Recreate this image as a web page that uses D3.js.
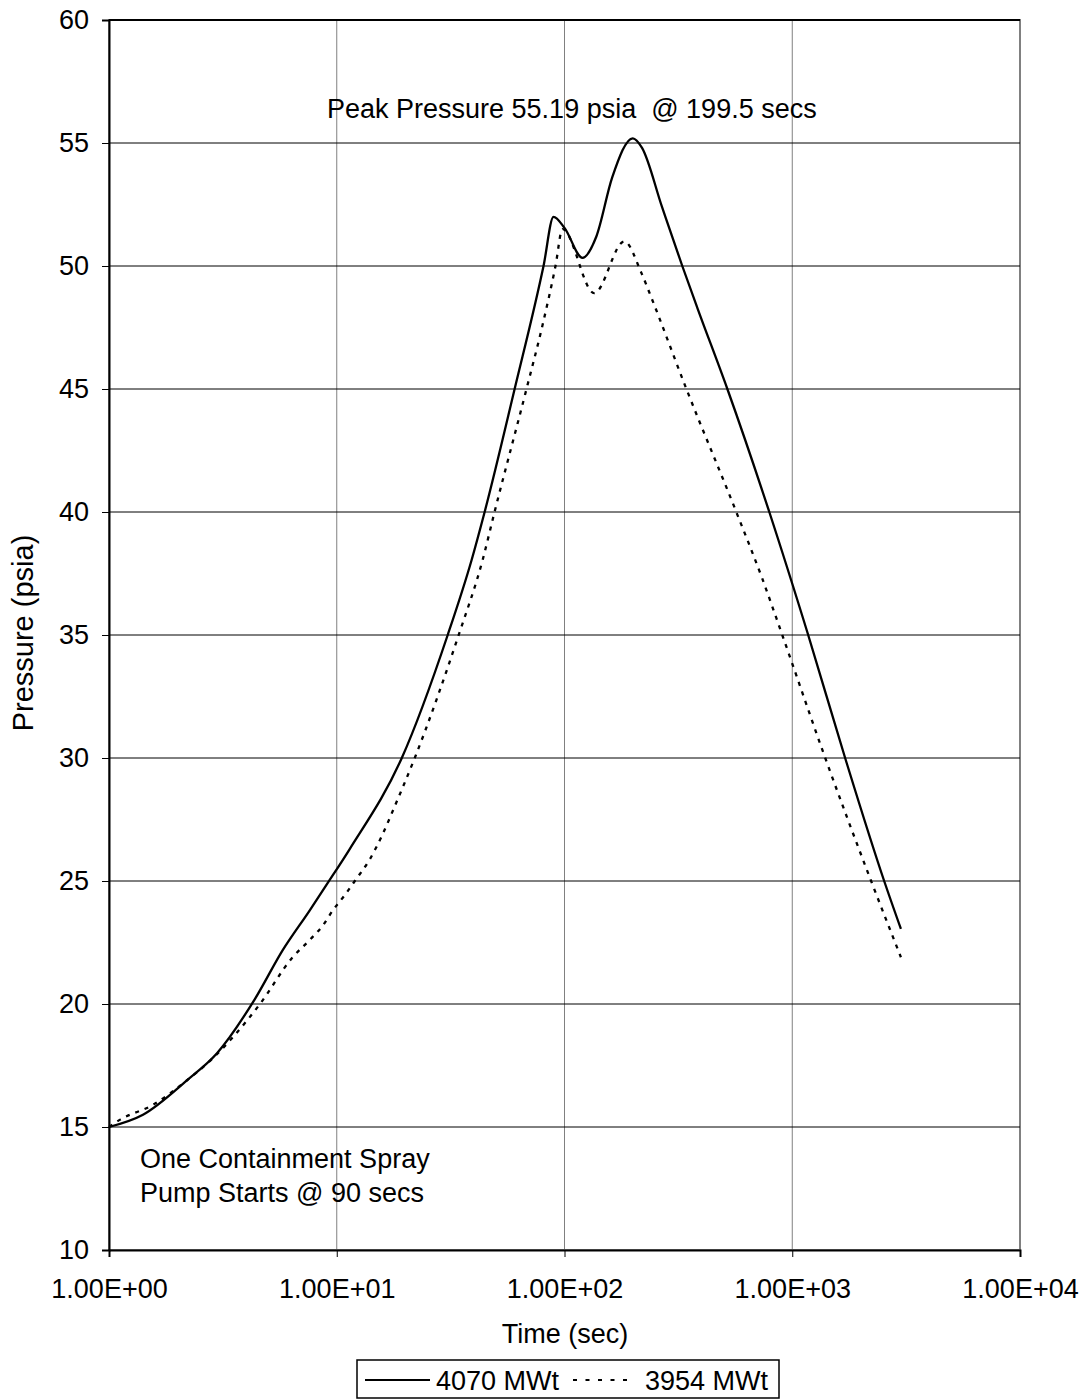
<!DOCTYPE html>
<html>
<head>
<meta charset="utf-8">
<script src="https://cdn.jsdelivr.net/npm/d3@7"></script>
<style>
  html, body { margin: 0; padding: 0; background: #fff; }
  text { font-family: "Liberation Sans", Arial, sans-serif; fill: #000; }
</style>
</head>
<body>
<svg id="chart" width="1086" height="1399"></svg>
<script>
"use strict";

// Containment pressure vs time (log time axis)
const yTicks = [10, 15, 20, 25, 30, 35, 40, 45, 50, 55, 60];
const xTicks = [1, 10, 100, 1000, 10000];

// 4070 MWt (solid)
const time4070 = [1, 1.41, 2.2, 2.98, 4.37, 5.8, 7.6, 9.1, 11.4, 19.3, 30.7, 39.1, 44.6, 60.4, 80.9, 89.5,
  100, 120, 138, 162, 199.5, 219, 268, 329, 383, 519, 793, 1175, 1707, 2533, 3000];
const pres4070 = [15.0, 15.5, 16.9, 18.0, 20.2, 22.2, 23.8, 24.9, 26.3, 30.0, 35.0, 38.05, 40.0, 45.0, 50.0, 52.0,
  51.55, 50.33, 51.2, 53.6, 55.19, 54.8, 52.4, 50.0, 48.3, 45.0, 40.0, 35.0, 30.0, 25.0, 23.05];

// 3954 MWt (dashed)
const time3954 = [1, 1.12, 1.56, 2.2, 2.86, 4.6, 6.4, 7.6, 8.7, 9.6, 11.0, 12.0, 13.9, 15.9, 17.9, 22.0, 34.3, 43.7, 49.3,
  68.1, 80.1, 91.3, 98, 135, 183, 218, 241, 343, 568, 738, 904, 1396, 2220, 3000];
const pres3954 = [15.0, 15.3, 15.9, 16.9, 17.8, 20.0, 21.9, 22.6, 23.2, 23.8, 24.5, 25.0, 25.85, 26.9, 28.0, 30.0, 35.0, 38.05, 40.0,
  45.0, 47.6, 50.0, 51.5, 48.9, 51.0, 49.7, 48.7, 45.0, 40.0, 37.3, 35.0, 30.0, 25.0, 21.9];

const svg = d3.select('#chart');
const plotL = 109, plotR = 1020, plotT = 20, plotB = 1250;
const FS = 27;

const x = d3.scaleLog().domain([1, 10000]).range([plotL, plotR]);
const y = d3.scaleLinear().domain([10, 60]).range([plotB, plotT]);

const fmtExp = d => {
  const e = Math.round(Math.log10(d));
  return (d / Math.pow(10, e)).toFixed(2) + 'E+' + String(e).padStart(2, '0');
};

// plot border
svg.append('rect')
  .attr('x', plotL).attr('y', plotT)
  .attr('width', plotR - plotL).attr('height', plotB - plotT)
  .attr('fill', 'none').attr('stroke', '#808080').attr('stroke-width', 2);

// gridlines
svg.append('g').selectAll('line').data(xTicks.slice(1, -1)).enter().append('line')
  .attr('x1', d => x(d)).attr('x2', d => x(d))
  .attr('y1', plotT).attr('y2', plotB)
  .attr('stroke', '#808080').attr('stroke-width', 1);

svg.append('g').selectAll('line').data(yTicks.slice(1)).enter().append('line')
  .attr('x1', plotL).attr('x2', plotR)
  .attr('y1', d => y(d)).attr('y2', d => y(d))
  .attr('stroke', '#000').attr('stroke-width', d => d === 60 ? 2 : 1);

// axes
const yAxis = svg.append('g')
  .attr('transform', `translate(${plotL},0)`)
  .call(d3.axisLeft(y).tickValues(yTicks).tickSize(7).tickPadding(13).tickFormat(d3.format('d')));
const xAxis = svg.append('g')
  .attr('transform', `translate(0,${plotB})`)
  .call(d3.axisBottom(x).tickValues(xTicks).tickSize(7).tickPadding(22).tickFormat(fmtExp));

[yAxis, xAxis].forEach(g => {
  g.select('.domain').attr('stroke', '#000').attr('stroke-width', 2);
  g.selectAll('.tick line').attr('stroke', '#000').attr('stroke-width', 1);
  g.selectAll('.tick text').attr('font-size', FS).attr('font-family', '"Liberation Sans", Arial, sans-serif');
});

// series
const line = d3.line().x(d => x(d[0])).y(d => y(d[1])).curve(d3.curveMonotoneX);
svg.append('path')
  .datum(d3.zip(time4070, pres4070))
  .attr('d', line)
  .attr('fill', 'none').attr('stroke', '#000').attr('stroke-width', 2.3);
svg.append('path')
  .datum(d3.zip(time3954, pres3954))
  .attr('d', line)
  .attr('fill', 'none').attr('stroke', '#000').attr('stroke-width', 2.3)
  .attr('stroke-dasharray', '4,6');

// labels
svg.append('text').attr('x', 565).attr('y', 1343).attr('text-anchor', 'middle')
  .attr('font-size', FS).text('Time (sec)');
svg.append('text').attr('transform', 'translate(33,633) rotate(-90)').attr('text-anchor', 'middle')
  .attr('font-size', 29).text('Pressure (psia)');

// annotations
svg.append('text').attr('x', 327).attr('y', 118).attr('font-size', FS)
  .attr('xml:space', 'preserve').text('Peak Pressure 55.19 psia  @ 199.5 secs');
svg.append('text').attr('x', 140).attr('y', 1168).attr('font-size', FS).text('One Containment Spray');
svg.append('text').attr('x', 140).attr('y', 1202).attr('font-size', FS).text('Pump Starts @ 90 secs');

// legend
const lg = svg.append('g');
lg.append('rect').attr('x', 357).attr('y', 1360).attr('width', 422).attr('height', 38)
  .attr('fill', '#fff').attr('stroke', '#000').attr('stroke-width', 1.5);
lg.append('line').attr('x1', 365).attr('x2', 430).attr('y1', 1380).attr('y2', 1380)
  .attr('stroke', '#000').attr('stroke-width', 2);
lg.append('text').attr('x', 436).attr('y', 1390).attr('font-size', FS).text('4070 MWt');
lg.append('line').attr('x1', 573).attr('x2', 634).attr('y1', 1380).attr('y2', 1380)
  .attr('stroke', '#000').attr('stroke-width', 2).attr('stroke-dasharray', '4,8.5');
lg.append('text').attr('x', 645).attr('y', 1390).attr('font-size', FS).text('3954 MWt');
</script>
</body>
</html>
